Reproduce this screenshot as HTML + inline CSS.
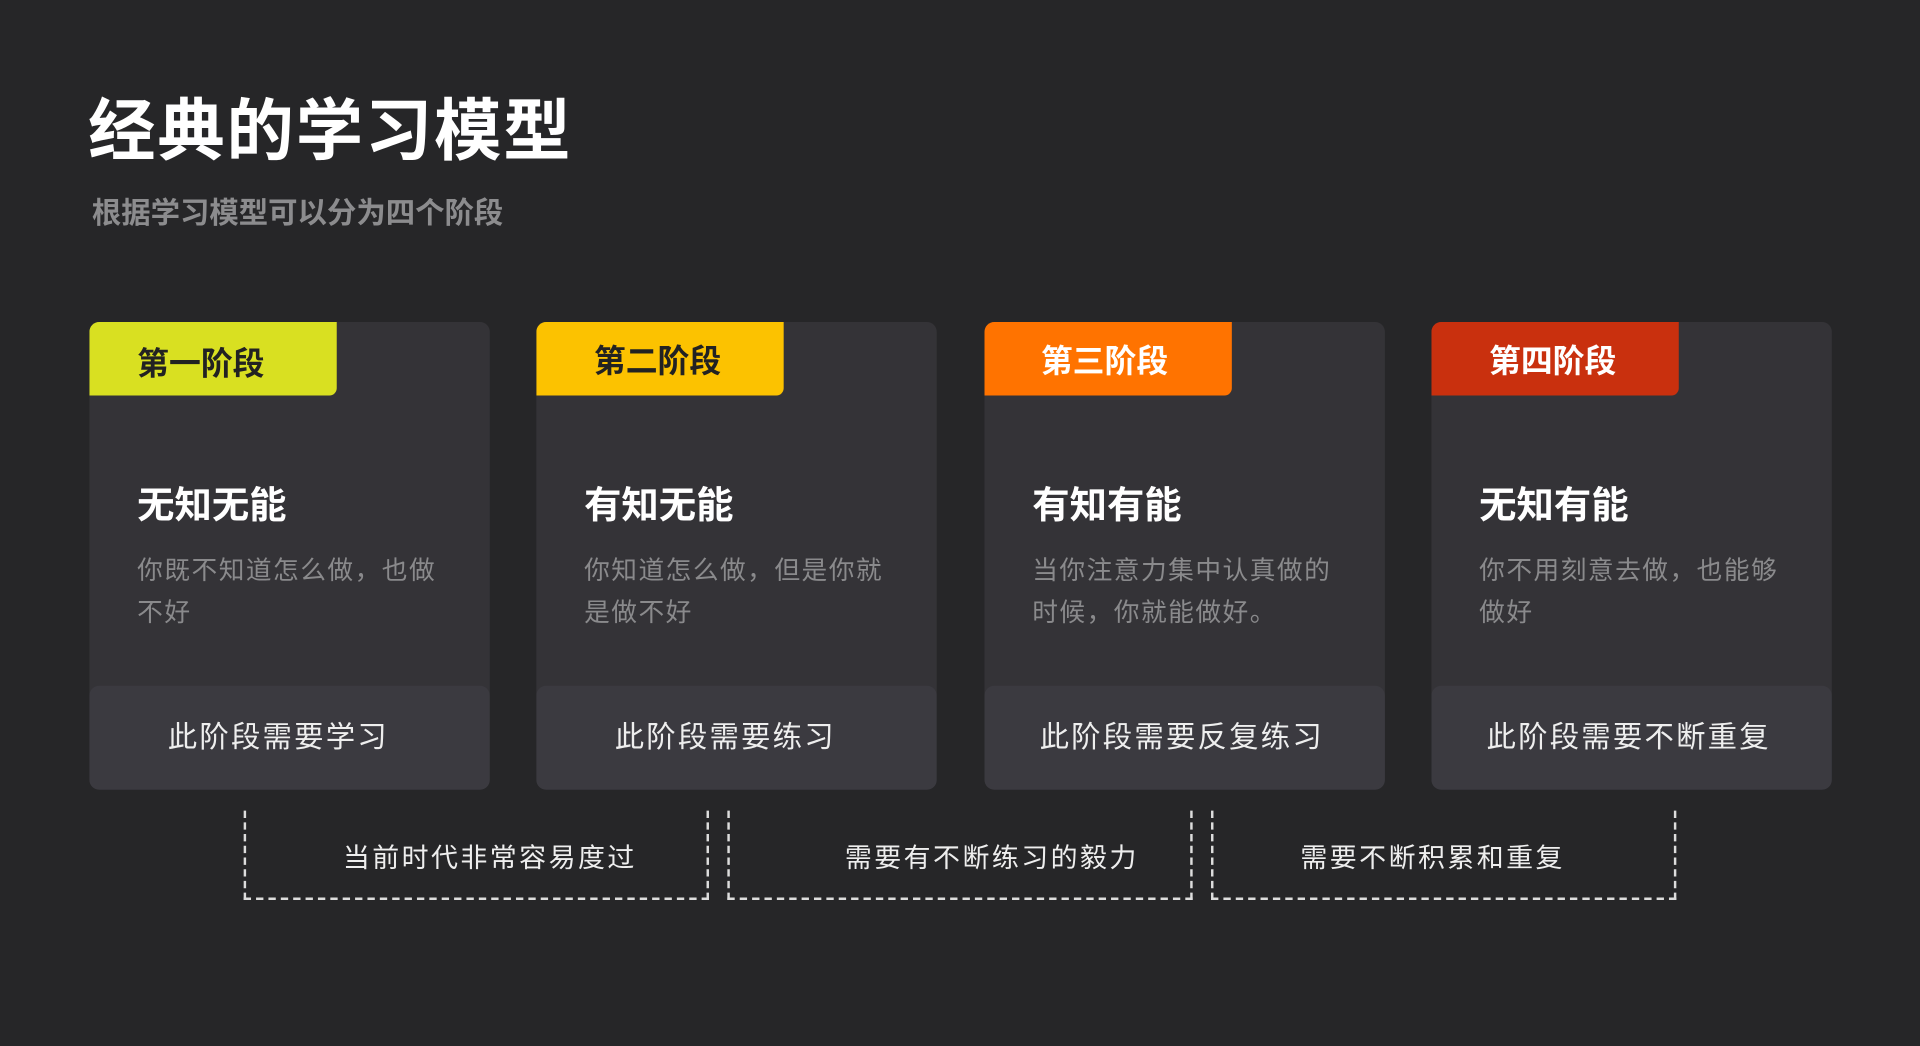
<!DOCTYPE html>
<html><head><meta charset="utf-8"><style>
html,body{margin:0;padding:0;background:#262628;width:1920px;height:1046px;overflow:hidden}
#w{position:absolute;left:0;top:0;width:1568px;height:854px;transform:scale(1.22449);transform-origin:0 0;font-family:"Liberation Sans","Noto Sans CJK SC",sans-serif}
.t{position:absolute;left:72px;top:72px;font-size:55px;font-weight:bold;color:#fff;line-height:70px;letter-spacing:1.5px}
.s{position:absolute;left:75px;top:159px;font-size:24px;font-weight:bold;color:#8c8c8e;line-height:32px}
.c{position:absolute;top:263px;width:327px;height:382px;background:#343337;border-radius:8px;overflow:hidden}
.tag{position:absolute;left:0;top:0;width:202px;height:60px;border-radius:0 0 6px 0;font-size:26px;font-weight:bold;line-height:68px;padding-left:39px;box-sizing:border-box}
.h{position:absolute;left:39px;top:130px;font-size:30.5px;font-weight:bold;color:#fff;line-height:40px}
.d{position:absolute;left:39px;top:187px;width:250px;font-size:21px;color:#8a8a8c;line-height:34px;letter-spacing:1.2px}
.b{position:absolute;left:0;top:297px;width:100%;height:85px;background:#3b3a40;border-radius:8px}
.b span{position:absolute;left:64px;top:26px;font-size:24px;color:#eee;letter-spacing:1.8px;line-height:34px}
.x{position:absolute;top:662px;height:73px;width:380px;border:2px dashed #ddd;border-top:none;box-sizing:border-box;font-size:22px;color:#eee;line-height:78px;letter-spacing:2px}
.x span{position:absolute;top:0}
</style></head><body><div id="w">
<div class="t">经典的学习模型</div>
<div class="s">根据学习模型可以分为四个阶段</div>

<div class="c" style="left:73px"><div class="tag" style="background:#d9e021;color:#222">第一阶段</div><div class="h">无知无能</div><div class="d">你既不知道怎么做，也做不好</div><div class="b"><span>此阶段需要学习</span></div></div>
<div class="c" style="left:438px"><div class="tag" style="background:#fcc200;color:#222;line-height:64px;padding-left:47px">第二阶段</div><div class="h">有知无能</div><div class="d">你知道怎么做，但是你就是做不好</div><div class="b"><span>此阶段需要练习</span></div></div>
<div class="c" style="left:804px"><div class="tag" style="background:#ff7300;color:#fff;line-height:64px;padding-left:46px">第三阶段</div><div class="h">有知有能</div><div class="d">当你注意力集中认真做的时候，你就能做好。</div><div class="b"><span style="left:45px">此阶段需要反复练习</span></div></div>
<div class="c" style="left:1169px"><div class="tag" style="background:#c9300e;color:#fff;line-height:64px;padding-left:47px">第四阶段</div><div class="h">无知有能</div><div class="d">你不用刻意去做，也能够做好</div><div class="b"><span style="left:45px">此阶段需要不断重复</span></div></div>

<div class="x" style="left:199px"><span style="left:79px">当前时代非常容易度过</span></div>
<div class="x" style="left:594px"><span style="left:94px">需要有不断练习的毅力</span></div>
<div class="x" style="left:989px"><span style="left:71px">需要不断积累和重复</span></div>
</div></body></html>
